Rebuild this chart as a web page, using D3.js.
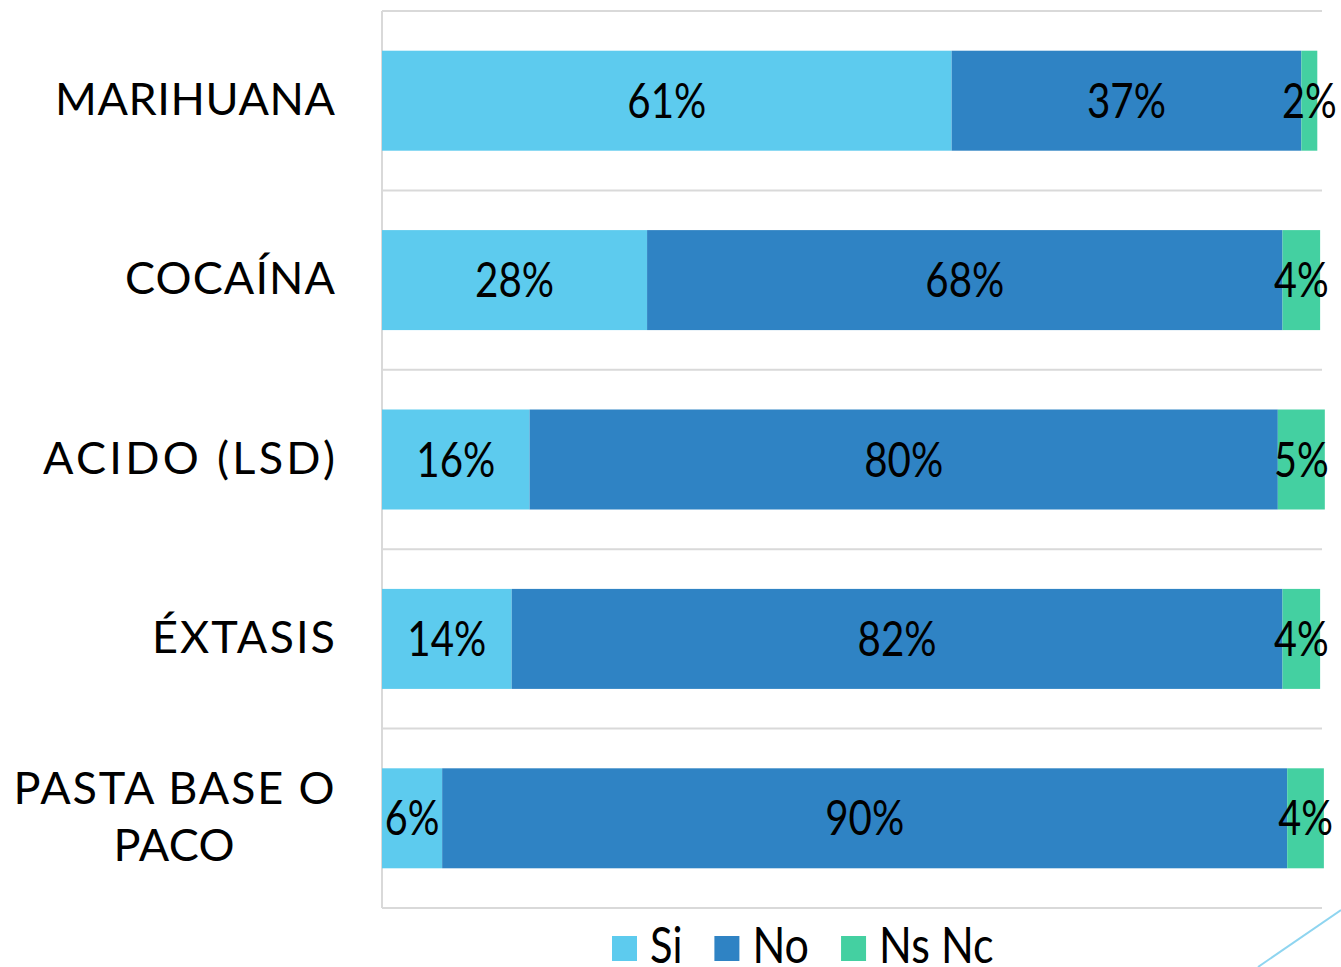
<!DOCTYPE html>
<html>
<head>
<meta charset="utf-8">
<script src="https://cdn.jsdelivr.net/npm/d3@7"></script>
<style>
  html, body { margin: 0; padding: 0; background: #ffffff; }
  svg { display: block; }
</style>
</head>
<body>
<svg id="chart" width="1341" height="967"></svg>
<script>
// ---- data ----
const categories = ["MARIHUANA", "COCAÍNA", "ACIDO (LSD)", "ÉXTASIS", "PASTA BASE O PACO"];
const categoryLines = [["MARIHUANA"], ["COCAÍNA"], ["ACIDO (LSD)"], ["ÉXTASIS"], ["PASTA BASE O", "PACO"]];
const seriesNames = ["Si", "No", "Ns Nc"];
const siValues   = [60.6, 28.2, 15.7, 13.8, 6.4];
const noValues   = [37.2, 67.6, 79.6, 82.0, 89.9];
const nsncValues = [1.7, 4.0, 5.0, 4.0, 3.9];
const colors = ["#5DCBEE", "#2F83C4", "#44D0A1"];

// ---- layout ----
const svg = d3.select("#chart");
const plot = { left: 382, right: 1322, top: 11, bottom: 908 };

const x = d3.scaleLinear().domain([0, 100]).range([plot.left, plot.right]);
const p = 0.4426;
const y = d3.scaleBand().domain(categories).range([plot.top, plot.bottom])
  .paddingInner(p).paddingOuter(p / 2);

const rows = categories.map((c, i) => ({ cat: c, vals: [siValues[i], noValues[i], nsncValues[i]] }));
const stackData = rows.map(r => ({ cat: r.cat, Si: r.vals[0], No: r.vals[1], "Ns Nc": r.vals[2] }));
const stacked = d3.stack().keys(seriesNames)(stackData);

// Calibri-like advance widths (em) for label width fitting
function calibriWidth(str, size) {
  let w = 0;
  for (const ch of str) {
    if (ch >= "0" && ch <= "9") w += 0.507;
    else if (ch === "%") w += 0.715;
    else if (ch === " ") w += 0.226;
    else if (ch === "S") w += 0.459;
    else if (ch === "i") w += 0.229;
    else if (ch === "N") w += 0.646;
    else if (ch === "o") w += 0.527;
    else if (ch === "s") w += 0.391;
    else if (ch === "c") w += 0.423;
    else w += 0.55;
  }
  return w * size;
}

// gridlines at band boundaries
const step = y.step();
const gridYs = d3.range(categories.length + 1).map(i => plot.top + i * step);
svg.append("g").selectAll("line").data(gridYs).join("line")
  .attr("x1", plot.left).attr("x2", plot.right)
  .attr("y1", d => d).attr("y2", d => d)
  .attr("stroke", "#d9d9d9").attr("stroke-width", 2);

// left axis line
svg.append("line")
  .attr("x1", plot.left).attr("x2", plot.left)
  .attr("y1", plot.top).attr("y2", plot.bottom)
  .attr("stroke", "#d9d9d9").attr("stroke-width", 2);

// bars
const layers = svg.append("g").selectAll("g").data(stacked).join("g")
  .attr("fill", (d, i) => colors[i]);
layers.selectAll("rect").data(d => d).join("rect")
  .attr("x", d => x(d[0]))
  .attr("width", d => x(d[1]) - x(d[0]))
  .attr("y", d => y(d.data.cat))
  .attr("height", y.bandwidth());

// value labels
const labelSize = 48;
const labels = [];
stacked.forEach(layer => layer.forEach(d => {
  const v = d[1] - d[0];
  labels.push({ cx: (x(d[0]) + x(d[1])) / 2, cy: y(d.data.cat) + y.bandwidth() / 2, text: Math.round(v) + "%" });
}));
svg.append("g").selectAll("text").data(labels).join("text")
  .attr("x", d => d.cx)
  .attr("y", d => d.cy + 17)
  .attr("text-anchor", "middle")
  .attr("font-family", "Lato, 'Noto Sans', sans-serif")
  .attr("font-size", labelSize)
  .attr("textLength", d => calibriWidth(d.text, labelSize) - 4)
  .attr("lengthAdjust", "spacingAndGlyphs")
  .attr("fill", "#000")
  .text(d => d.text);

// category labels (Tw Cen-like, letter-spaced)
const catWidths = { "MARIHUANA": 280, "COCAÍNA": 210, "ACIDO (LSD)": 292, "ÉXTASIS": 183, "PASTA BASE O": 321, "PACO": 121 };
const catG = svg.append("g")
  .attr("font-family", "Lato, 'Noto Sans', sans-serif")
  .attr("font-size", 45)
  .attr("fill", "#000");
categories.forEach((c, i) => {
  const lines = categoryLines[i];
  const cy = y(c) + y.bandwidth() / 2;
  if (lines.length === 1) {
    catG.append("text")
      .attr("x", 335).attr("y", cy + 14)
      .attr("text-anchor", "end")
      .attr("textLength", catWidths[lines[0]])
      .attr("lengthAdjust", "spacing")
      .text(lines[0]);
  } else {
    lines.forEach((ln, j) => {
      catG.append("text")
        .attr("x", 174).attr("y", cy - 14 + j * 57)
        .attr("text-anchor", "middle")
        .attr("textLength", catWidths[ln])
        .attr("lengthAdjust", "spacing")
        .text(ln);
    });
  }
});

// legend
const legendSize = 50;
const legend = svg.append("g");
let lx = 612;
seriesNames.forEach((name, i) => {
  legend.append("rect")
    .attr("x", lx).attr("y", 936).attr("width", 25).attr("height", 25)
    .attr("fill", colors[i]);
  const tw = calibriWidth(name, legendSize) - 2;
  legend.append("text")
    .attr("x", lx + 38).attr("y", 963)
    .attr("font-family", "Lato, 'Noto Sans', sans-serif")
    .attr("font-size", legendSize)
    .attr("textLength", tw)
    .attr("lengthAdjust", "spacingAndGlyphs")
    .attr("fill", "#000")
    .text(name);
  lx += 38 + tw + 32;
});

// decorative diagonal line (slide ornament)
svg.append("line")
  .attr("x1", 1258).attr("y1", 967).attr("x2", 1341).attr("y2", 910)
  .attr("stroke", "#8FD5F0").attr("stroke-width", 2);
</script>
</body>
</html>
